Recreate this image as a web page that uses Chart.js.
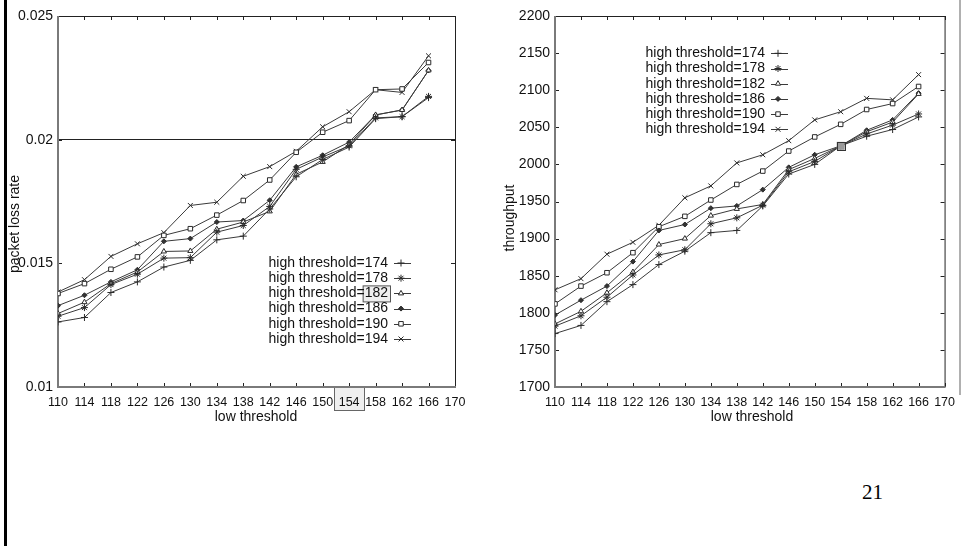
<!DOCTYPE html>
<html>
<head>
<meta charset="utf-8">
<script src="https://cdn.jsdelivr.net/npm/chart.js@4/dist/chart.umd.min.js"></script>
<style>
  body { margin: 0; background: #fff; }
  #page { position: relative; width: 963px; height: 546px; overflow: hidden; background: #fff; }
  #leftBar { position: absolute; left: 4px; top: 0; width: 3px; height: 546px; background: #000; }
  #rightBar { position: absolute; left: 959px; top: 0; width: 2px; height: 395px; background: #b0b0b0; }
  #lossChart { position: absolute; left: 0; top: 0; }
  #tpChart { position: absolute; left: 480px; top: 0; }
  #pageNo { position: absolute; left: 862px; top: 480px; font: 21px "Liberation Serif", "DejaVu Serif", serif; color: #000; }
</style>
</head>
<body>
<div id="page">
  <div id="leftBar"></div>
  <div id="rightBar"></div>
  <canvas id="lossChart" width="480" height="430"></canvas>
  <canvas id="tpChart" width="483" height="430"></canvas>
  <div id="pageNo">21</div>
</div>
<script>
// x values (low threshold)
const lowThreshold = [110, 114, 118, 122, 126, 130, 134, 138, 142, 146, 150, 154, 158, 162, 166];
const highThresholds = [174, 178, 182, 186, 190, 194];

// packet loss rate per high threshold
const loss174 = [0.01263, 0.01281, 0.01382, 0.01425, 0.01485, 0.01512, 0.01595, 0.0161, 0.0172, 0.0185, 0.0192, 0.0197, 0.02085, 0.02093, 0.0217];
const loss178 = [0.01286, 0.01321, 0.01414, 0.01456, 0.01521, 0.01523, 0.01626, 0.01653, 0.0173, 0.0188, 0.0193, 0.01975, 0.02088, 0.02093, 0.02175];
const loss182 = [0.01297, 0.01343, 0.01418, 0.01465, 0.01548, 0.0155, 0.01638, 0.01667, 0.0171, 0.0186, 0.0191, 0.0198, 0.021, 0.0212, 0.0228];
const loss186 = [0.01329, 0.01371, 0.01425, 0.01474, 0.01589, 0.016, 0.01667, 0.01673, 0.01755, 0.0189, 0.01937, 0.0199, 0.021, 0.0212, 0.0228];
const loss190 = [0.01378, 0.01418, 0.01476, 0.01526, 0.01613, 0.0164, 0.01695, 0.01754, 0.01837, 0.01949, 0.0203, 0.02077, 0.02202, 0.02205, 0.02312];
const loss194 = [0.01384, 0.01434, 0.01528, 0.01579, 0.01624, 0.01734, 0.01747, 0.01852, 0.01891, 0.01953, 0.02052, 0.02113, 0.02202, 0.02191, 0.02339];

// throughput per high threshold
const tp174 = [1772, 1783, 1815, 1838, 1865, 1883, 1908, 1911, 1944, 1987, 2000, 2025, 2038, 2047, 2064];
const tp178 = [1782, 1796, 1821, 1851, 1878, 1885, 1920, 1928, 1945, 1990, 2004, 2025, 2041, 2053, 2068];
const tp182 = [1785, 1802, 1827, 1855, 1892, 1900, 1931, 1940, 1946, 1993, 2008, 2025, 2044, 2057, 2095];
const tp186 = [1797, 1817, 1836, 1869, 1911, 1919, 1941, 1944, 1966, 1996, 2013, 2025, 2046, 2060, 2096];
const tp190 = [1812, 1836, 1854, 1881, 1916, 1930, 1952, 1973, 1991, 2018, 2037, 2054, 2074, 2082, 2105];
const tp194 = [1831, 1846, 1879, 1895, 1918, 1955, 1971, 2002, 2013, 2032, 2060, 2071, 2089, 2087, 2121];

// highlighted spots on the slide
const markedLow = 154;
const markedTp = 2025;
const markedHigh = '182';

const markers = [
  { style: 'cross', fill: '#333', r: 3.5 },
  { style: 'star', fill: '#333', r: 3.5 },
  { style: 'triangle', fill: '#fff', r: 3 },
  { style: 'rectRot', fill: '#333', r: 2.5 },
  { style: 'rect', fill: '#fff', r: 3.2 },
  { style: 'crossRot', fill: '#333', r: 3.5 }
];

function makeSets(seriesList) {
  return seriesList.map((vals, i) => ({
    label: 'high threshold=' + highThresholds[i],
    data: vals.map((v, j) => ({ x: lowThreshold[j], y: v })),
    borderColor: '#3a3a3a',
    borderWidth: 1,
    pointStyle: markers[i].style,
    pointRadius: markers[i].r,
    pointBorderWidth: 1,
    pointBorderColor: '#2a2a2a',
    pointBackgroundColor: markers[i].fill,
    tension: 0
  }));
}

// gnuplot-like box with inward ticks
const framePlugin = {
  id: 'frame',
  beforeDatasetsDraw(chart) {
    const { ctx, chartArea: a, scales } = chart;
    ctx.save();
    ctx.strokeStyle = '#222';
    ctx.lineWidth = 1;
    ctx.beginPath();
    scales.x.ticks.forEach(t => {
      const px = Math.round(scales.x.getPixelForValue(t.value)) + 0.5;
      ctx.moveTo(px, a.bottom); ctx.lineTo(px, a.bottom - 4);
      ctx.moveTo(px, a.top); ctx.lineTo(px, a.top + 4);
    });
    scales.y.ticks.forEach(t => {
      const py = Math.round(scales.y.getPixelForValue(t.value)) + 0.5;
      ctx.moveTo(a.left, py); ctx.lineTo(a.left + 4, py);
      ctx.moveTo(a.right, py); ctx.lineTo(a.right - 4, py);
    });
    ctx.stroke();
    // top and right edges
    ctx.beginPath();
    ctx.moveTo(a.left, Math.round(a.top) + 0.5);
    ctx.lineTo(a.right + 0.5, Math.round(a.top) + 0.5);
    ctx.lineTo(a.right + 0.5, a.bottom);
    ctx.stroke();
    // left and bottom edges, grey and heavier
    ctx.strokeStyle = '#7a7a7a';
    ctx.lineWidth = 2;
    ctx.beginPath();
    ctx.moveTo(a.left, a.top);
    ctx.lineTo(a.left, a.bottom);
    ctx.lineTo(a.right + 1, a.bottom);
    ctx.stroke();
    ctx.restore();
  }
};

// legend drawn gnuplot style: right-aligned text, sample line with marker
const keyPlugin = {
  id: 'key',
  afterDatasetsDraw(chart, args, opts) {
    const ctx = chart.ctx;
    ctx.save();
    ctx.font = '14px "Liberation Sans", Arial, sans-serif';
    ctx.textAlign = 'right';
    ctx.textBaseline = 'middle';
    chart.data.datasets.forEach((ds, i) => {
      const y = opts.top + i * opts.step;
      if (opts.mark && ds.label.endsWith(opts.mark)) {
        const w = ctx.measureText(opts.mark).width;
        ctx.fillStyle = '#eeeeee';
        ctx.strokeStyle = '#555';
        ctx.lineWidth = 1;
        ctx.fillRect(opts.right - w - 2, y - 8, w + 4, 16);
        ctx.strokeRect(opts.right - w - 2 + 0.5, y - 8 + 0.5, w + 4, 16);
      }
      ctx.fillStyle = '#111';
      ctx.fillText(ds.label, opts.right, y);
      ctx.strokeStyle = '#3a3a3a';
      ctx.lineWidth = 1;
      ctx.beginPath();
      ctx.moveTo(opts.right + 6, Math.round(y) + 0.5);
      ctx.lineTo(opts.right + 23, Math.round(y) + 0.5);
      ctx.stroke();
      ctx.strokeStyle = '#2a2a2a';
      ctx.fillStyle = ds.pointBackgroundColor;
      Chart.helpers.drawPoint(ctx, { pointStyle: ds.pointStyle, radius: ds.pointRadius, borderWidth: 1, rotation: 0 }, opts.right + 13, y);
    });
    ctx.restore();
  }
};

// axis names placed like in the slide
const namesPlugin = {
  id: 'names',
  afterDraw(chart, args, opts) {
    const ctx = chart.ctx;
    ctx.save();
    ctx.fillStyle = '#111';
    ctx.font = '14px "Liberation Sans", Arial, sans-serif';
    ctx.textAlign = 'center';
    ctx.textBaseline = 'middle';
    ctx.fillText(opts.xName, opts.xNameX, opts.xNameY);
    ctx.translate(opts.yNameX, opts.yNameY);
    ctx.rotate(-Math.PI / 2);
    ctx.fillText(opts.yName, 0, 0);
    ctx.restore();
  }
};

// light box behind a tick label and a grey square on a data spot
const markPlugin = {
  id: 'mark',
  beforeDraw(chart, args, opts) {
    if (opts.tickBox) {
      const ctx = chart.ctx, a = chart.chartArea;
      const px = chart.scales.x.getPixelForValue(markedLow);
      ctx.save();
      ctx.fillStyle = '#efefef';
      ctx.strokeStyle = '#666';
      ctx.lineWidth = 1;
      ctx.fillRect(px - 15, a.bottom, 30, 23);
      ctx.strokeRect(Math.round(px - 15) + 0.5, Math.round(a.bottom) + 0.5, 30, 23);
      ctx.restore();
    }
  },
  afterDatasetsDraw(chart, args, opts) {
    if (opts.spot) {
      const ctx = chart.ctx;
      const px = chart.scales.x.getPixelForValue(markedLow);
      const py = chart.scales.y.getPixelForValue(markedTp);
      ctx.save();
      ctx.fillStyle = '#9a9a9a';
      ctx.strokeStyle = '#333';
      ctx.lineWidth = 1;
      ctx.fillRect(px - 4, py - 4, 8, 8);
      ctx.strokeRect(Math.round(px - 4) + 0.5, Math.round(py - 4) + 0.5, 8, 8);
      ctx.restore();
    }
  }
};

function makeOptions(cfg) {
  return {
    responsive: false,
    animation: false,
    layout: { padding: { top: 16, right: cfg.padRight, left: 0, bottom: 0 } },
    plugins: {
      legend: { display: false },
      tooltip: { enabled: false },
      key: cfg.key,
      names: cfg.names,
      mark: cfg.mark
    },
    scales: {
      x: {
        type: 'linear',
        min: 110, max: 170,
        border: { display: false },
        grid: { display: false, drawTicks: false },
        ticks: {
          stepSize: 4,
          autoSkip: false,
          maxRotation: 0,
          padding: 8,
          color: '#111',
          font: { family: '"Liberation Sans", Arial, sans-serif', size: 12.5 }
        },
        afterFit: s => { s.height = 43; }
      },
      y: {
        min: cfg.yMin, max: cfg.yMax,
        border: { display: false },
        grid: {
          drawTicks: false,
          lineWidth: 1,
          color: cfg.gridColor
        },
        ticks: {
          stepSize: cfg.yStep,
          padding: 5,
          color: '#111',
          font: { family: '"Liberation Sans", Arial, sans-serif', size: 14 },
          callback: cfg.yFormat
        },
        afterFit: s => { s.width = cfg.yWidth; }
      }
    }
  };
}

new Chart(document.getElementById('lossChart'), {
  type: 'line',
  data: { datasets: makeSets([loss174, loss178, loss182, loss186, loss190, loss194]) },
  options: makeOptions({
    padRight: 25,
    yWidth: 58,
    yMin: 0.01, yMax: 0.025, yStep: 0.005,
    yFormat: v => String(Math.round(v * 1000) / 1000),
    gridColor: c => (c.tick && Math.abs(c.tick.value - 0.02) < 1e-9) ? '#222' : 'rgba(0,0,0,0)',
    key: { right: 388, top: 263, step: 15.2, mark: markedHigh },
    names: { xName: 'low threshold', xNameX: 256, xNameY: 417, yName: 'packet loss rate', yNameX: 15, yNameY: 224 },
    mark: { tickBox: true }
  }),
  plugins: [markPlugin, framePlugin, keyPlugin, namesPlugin]
});

new Chart(document.getElementById('tpChart'), {
  type: 'line',
  data: { datasets: makeSets([tp174, tp178, tp182, tp186, tp190, tp194]) },
  options: makeOptions({
    padRight: 13,
    yWidth: 75,
    yMin: 1700, yMax: 2200, yStep: 50,
    yFormat: v => String(v),
    gridColor: 'rgba(0,0,0,0)',
    key: { right: 285, top: 53.3, step: 15.2 },
    names: { xName: 'low threshold', xNameX: 272, xNameY: 417, yName: 'throughput', yNameX: 30, yNameY: 218 },
    mark: { spot: true }
  }),
  plugins: [markPlugin, framePlugin, keyPlugin, namesPlugin]
});
</script>
</body>
</html>
